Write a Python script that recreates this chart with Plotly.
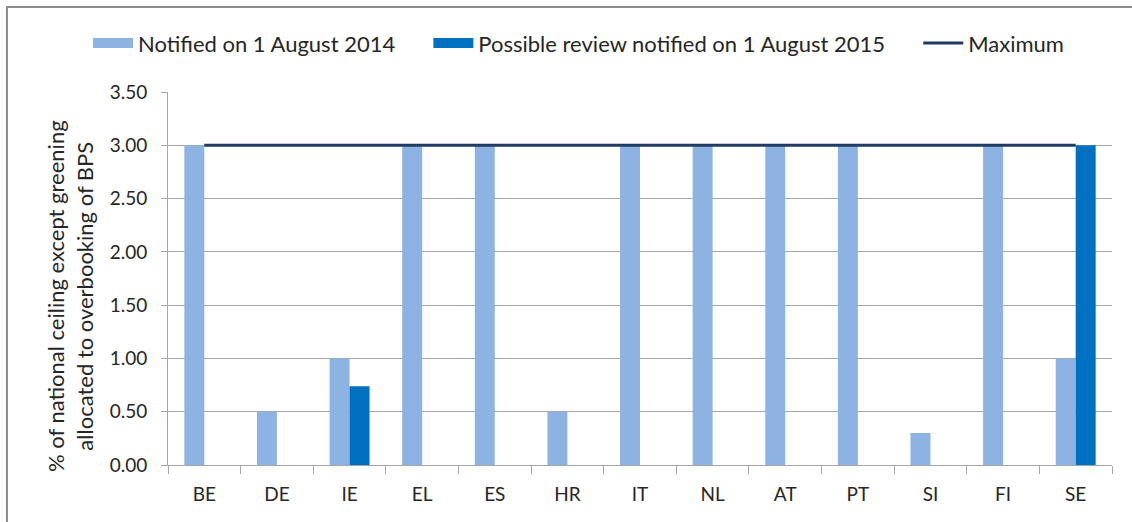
import plotly.graph_objects as go

categories = ["BE", "DE", "IE", "EL", "ES", "HR", "IT", "NL", "AT", "PT", "SI", "FI", "SE"]
notified_2014 = [3.0, 0.5, 1.0, 3.0, 3.0, 0.5, 3.0, 3.0, 3.0, 3.0, 0.3, 3.0, 1.0]
review_2015 = [None, None, 0.74, None, None, None, None, None, None, None, None, None, 3.0]
maximum = [3.0] * 13
y_ticks = [0, 0.5, 1.0, 1.5, 2.0, 2.5, 3.0, 3.5]

names = ["Notified on 1 August 2014", "Possible review notified on 1 August 2015", "Maximum"]
colors = ["#8DB3E2", "#0070C0", "#1F3A63"]
y_title = "% of national ceiling except greening<br>allocated to overbooking of BPS"

FONT = "Lato"
TXT = "#262626"
GRID = "#a6a6a6"
PAD = "\u00a0" * 5

fig = go.Figure()
fig.add_trace(go.Bar(x=categories, y=notified_2014, name=names[0], showlegend=False,
                     legendgroup="a", marker=dict(color=colors[0], line=dict(width=0))))
fig.add_trace(go.Bar(x=categories, y=review_2015, name=names[1], showlegend=False,
                     legendgroup="b", marker=dict(color=colors[1], line=dict(width=0))))
fig.add_trace(go.Scatter(x=categories, y=maximum, name=names[2], mode="lines", showlegend=False,
                         legendgroup="c", line=dict(color=colors[2], width=3)))
# legend entries (wide rectangle swatches like the original)
for nm, col, w, grp, pad in zip(names, colors, [12, 12, 3], ["a", "b", "c"], [PAD, PAD, ""]):
    fig.add_trace(go.Scatter(x=[None], y=[None], mode="lines", name=nm + pad, legendgroup=grp,
                             line=dict(color=col, width=w), hoverinfo="skip"))

fig.update_layout(
    width=1132, height=522,
    margin=dict(l=168, r=20, t=92, b=57, autoexpand=False),
    paper_bgcolor="white", plot_bgcolor="white",
    font=dict(family=FONT, size=19, color=TXT),
    barmode="group", bargap=0.45, bargroupgap=0,
    showlegend=True,
    legend=dict(orientation="h", x=-0.0847, xanchor="left", y=1.131, yanchor="middle",
                font=dict(size=22, family=FONT, color=TXT), itemwidth=40,
                traceorder="normal", bgcolor="rgba(0,0,0,0)"),
    xaxis=dict(type="category", showgrid=False, showline=True, linecolor=GRID, linewidth=1,
               ticks="outside", tickson="boundaries", ticklen=8, tickcolor=GRID,
               tickfont=dict(size=19, family=FONT, color=TXT), ticklabelstandoff=12),
    yaxis=dict(range=[0, 3.5], tickvals=y_ticks, tickformat=".2f", showgrid=True,
               gridcolor=GRID, gridwidth=1, showline=True, linecolor=GRID, linewidth=1,
               ticks="outside", ticklen=6, tickcolor=GRID, zeroline=False,
               tickfont=dict(size=19, family=FONT, color=TXT), ticklabelstandoff=10),
    annotations=[dict(text=y_title, textangle=-90, xref="paper", yref="paper",
                      x=-0.1038, y=0.453, xanchor="center", yanchor="middle", showarrow=False,
                      font=dict(size=22, family=FONT, color=TXT))],
    shapes=[dict(type="rect", xref="paper", yref="paper", x0=-0.1706, x1=1.2, y0=-0.3, y1=1.2279,
                 line=dict(color="#8c8c8c", width=2), fillcolor="rgba(0,0,0,0)", layer="below")],
)

fig.write_html("out.html", config={"displayModeBar": False},
               post_script="document.body.style.margin='0';")
